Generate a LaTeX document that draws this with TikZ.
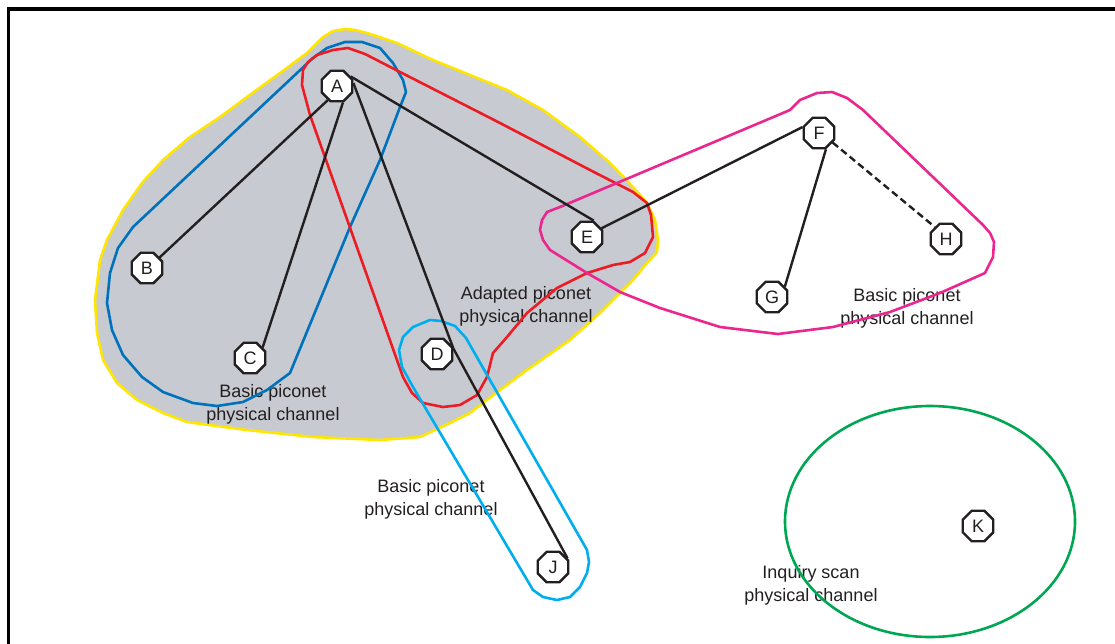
\documentclass[tikz,border=0pt]{standalone}
\usepackage{fontspec}
\setmainfont{Liberation Sans}
\usetikzlibrary{shapes.geometric}
\definecolor{ink}{HTML}{231F20}
\definecolor{blobfill}{HTML}{C8CAD1}
\definecolor{blobline}{HTML}{FFE600}
\definecolor{bluec}{HTML}{0072BC}
\definecolor{redc}{HTML}{ED1C24}
\definecolor{cyanc}{HTML}{00AEEF}
\definecolor{magc}{HTML}{EC268F}
\definecolor{greenc}{HTML}{00A651}
\tikzset{
  dev/.style={regular polygon, regular polygon sides=8, draw=ink, line width=2.4pt,
    fill=white, minimum size=33pt, inner sep=0pt, text=ink, font=\fontsize{18}{22}\selectfont},
  link/.style={draw=ink, line width=2.4pt},
  chan/.style={line width=2.6pt, line join=round},
  lab/.style={align=center, text=ink, font=\fontsize{18}{23}\selectfont, inner sep=0pt}
}
\begin{document}
\begin{tikzpicture}[x=1pt,y=-1pt]
\useasboundingbox (0,0) rectangle (1115,643);
% frame
\draw[line width=3.3pt, draw=black] (8.3,650) -- (8.3,9) -- (1120,9);
% labels
\node[lab] (l1) at (273,404) {Basic piconet\\physical channel};
\node[lab] (l2) at (526,306) {Adapted piconet\\physical channel};
\node[lab] (l3) at (431,499) {Basic piconet\\physical channel};
\node[lab] (l4) at (907,308) {Basic piconet\\physical channel};
\node[lab] (l5) at (811,585) {Inquiry scan\\physical channel};
% gray blob
\draw[chan, draw=blobline, fill=blobfill, fill opacity=1] (313,47) -- (323,37) -- (333,31) -- (345,29) -- (355,30) -- (367,33) -- (397,43) -- (433,60) -- (507,90) -- (543,110) -- (580,137) -- (610,163) -- (633,187) -- (647,203) -- (655,220) -- (658,240) -- (657,252) -- (647,263) -- (633,280) -- (600,313) -- (570,340) -- (527,370) -- (500,390) -- (470,413) -- (450,423) -- (420,437) -- (380,440) -- (313,437) -- (247,430) -- (187,422) -- (163,413) -- (137,400) -- (117,383) -- (103,360) -- (97,333) -- (95,300) -- (100,260) -- (107,240) -- (123,210) -- (142,183) -- (163,160) -- (190,137) -- (220,117) -- (247,97) -- (280,73) -- (307,53) -- cycle;
% re-draw labels that sit on the blob
\node[lab] at (273,404) {Basic piconet\\physical channel};
\node[lab] at (526,306) {Adapted piconet\\physical channel};
% blue
\draw[chan, draw=bluec] (313,58) -- (327,48) -- (345,42) -- (362,42) -- (380,48) -- (393,63) -- (403,80) -- (406,92) -- (400,107) -- (380,160) -- (350,227) -- (290,373) -- (267,390) -- (243,402) -- (217,406) -- (193,403) -- (163,392) -- (142,377) -- (123,355) -- (112,330) -- (107,303) -- (110,273) -- (118,248) -- (133,227) -- cycle;
% red
\draw[chan, draw=redc] (302,85) -- (303,70) -- (308,62) -- (317,55) -- (333,50) -- (348,48) -- (365,54) -- (400,72) -- (500,123) -- (590,170) -- (633,192) -- (647,203) -- (651,215) -- (653,237) -- (645,253) -- (630,262) -- (613,265) -- (587,273) -- (557,288) -- (527,313) -- (507,337) -- (493,353) -- (487,377) -- (477,395) -- (460,405) -- (443,407) -- (423,403) -- (412,393) -- (403,377) -- (310,115) -- cycle;
% cyan
\draw[chan, draw=cyanc] (430,320) -- (441,321) -- (455,326) -- (466,338) -- (587,550) -- (589,562) -- (587,573) -- (580,587) -- (570,597) -- (557,600) -- (543,597) -- (533,590) -- (413,387) -- (402,367) -- (399,350) -- (403,337) -- (413,327) -- cycle;
% magenta
\draw[chan, draw=magc] (560,207) -- (700,148) -- (790,110) -- (800,100) -- (817,93) -- (832,92) -- (847,98) -- (863,110) -- (983,225) -- (990,233) -- (994,242) -- (993,257) -- (985,273) -- (940,293) -- (890,312) -- (833,327) -- (778,334) -- (720,327) -- (660,308) -- (620,292) -- (587,273) -- (550,250) -- (543,240) -- (540,230) -- (542,220) -- (547,212) -- cycle;
% green
\draw[chan, draw=greenc] (930,521.5) ellipse [x radius=145, y radius=115.5];
% devices
\node[dev] (A) at (337,86) {A};
\node[dev] (B) at (147,268) {B};
\node[dev] (C) at (250,358) {C};
\node[dev] (D) at (437,354) {D};
\node[dev] (E) at (587,237) {E};
\node[dev] (F) at (819,133) {F};
\node[dev] (G) at (772,297) {G};
\node[dev] (H) at (946,239) {H};
\node[dev] (J) at (553,567) {J};
\node[dev] (K) at (978,526) {K};
% links
\draw[link] (A.237) -- (B.40);
\draw[link] (A.290) -- (C.40);
\draw[link] (A.35) -- (E.68);
\draw[link] (A.10) -- (D.18);
\draw[link] (D.18) -- (J.31);
\draw[link] (E.31) -- (F.160);
\draw[link] (F.-67) -- (G.39);
\draw[link, dash pattern=on 7pt off 4pt] (F.-35) -- (H.133);
\end{tikzpicture}
\end{document}
